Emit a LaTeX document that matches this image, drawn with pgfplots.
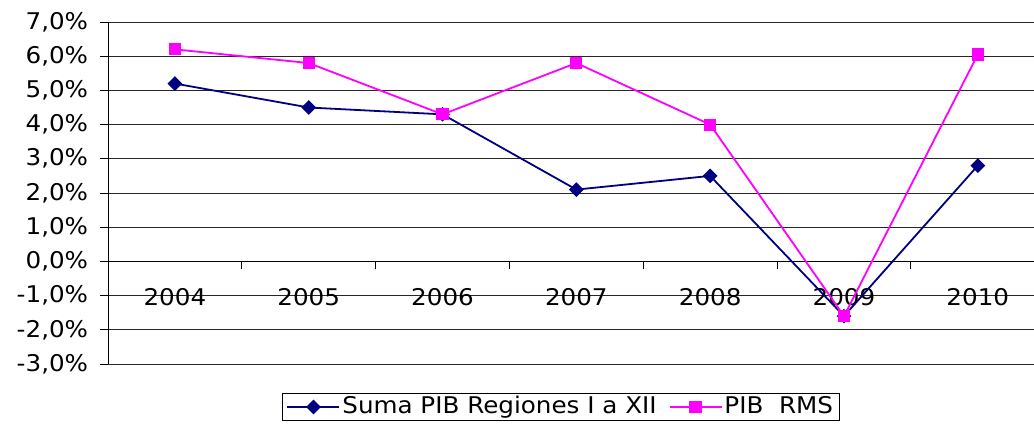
\documentclass[border=0pt]{standalone}
\usepackage{pgfplots}
\pgfplotsset{compat=1.18}
\usepackage{fontspec}
\setmainfont{DejaVu Sans}[FakeStretch=1.07]
\definecolor{navyblue}{RGB}{0,0,128}
\definecolor{pinkm}{RGB}{255,0,255}
\begin{document}
\fontsize{23bp}{27bp}\selectfont
\begin{tikzpicture}
\path[use as bounding box] (-108bp,-61bp) rectangle (926bp,364bp);
\begin{axis}[
  scale only axis,
  width=926bp, height=342bp,
  xmin=-0.5, xmax=6.42, ymin=-3, ymax=7,
  axis x line=middle, axis y line=left,
  axis line style={-, black, line width=0.8bp},
  tick align=outside,
  major tick length=8bp,
  tick style={black, line width=0.8bp},
  xtick={0.5,1.5,2.5,3.5,4.5,5.5}, xticklabels={},
  extra x ticks={0,1,2,3,4,5,6},
  extra x tick labels={2004,2005,2006,2007,2008,2009,2010},
  extra x tick style={major tick length=0pt, tick label style={yshift=-19bp}},
  ytick={-3,-2,-1,0,1,2,3,4,5,6,7},
  yticklabels={{-3,0\%},{-2,0\%},{-1,0\%},{0,0\%},{1,0\%},{2,0\%},{3,0\%},{4,0\%},{5,0\%},{6,0\%},{7,0\%}},
  yticklabel style={xshift=-4bp},
  ymajorgrids,
  grid style={black!85, line width=0.8bp},
  tick label style={font=\fontsize{23bp}{27bp}\selectfont},
  legend columns=2,
  legend style={at={(0.489,-0.085)}, anchor=north, draw=black, line width=0.8bp,
    font=\fontsize{23bp}{27bp}\selectfont, inner xsep=4bp, inner ysep=1bp,
    /tikz/every even column/.append style={column sep=10bp}},
  legend image code/.code={\draw[mark repeat=2,mark phase=2] plot coordinates {(0bp,0bp) (26bp,0bp) (52bp,0bp)};},
]
\addplot[navyblue, line width=1.8bp, mark=square*, mark size=4.3bp, mark options={rotate=45, solid, fill=navyblue}]
  coordinates {(0,5.2) (1,4.5) (2,4.3) (3,2.1) (4,2.5) (5,-1.6) (6,2.8)};
\addlegendentry{Suma PIB Regiones I a XII}
\addplot[pinkm, line width=1.8bp, mark=square*, mark size=5.2bp, mark options={solid, fill=pinkm}]
  coordinates {(0,6.2) (1,5.8) (2,4.3) (3,5.8) (4,4.0) (5,-1.6) (6,6.05)};
\addlegendentry{PIB~~RMS}
\end{axis}
\end{tikzpicture}
\end{document}
